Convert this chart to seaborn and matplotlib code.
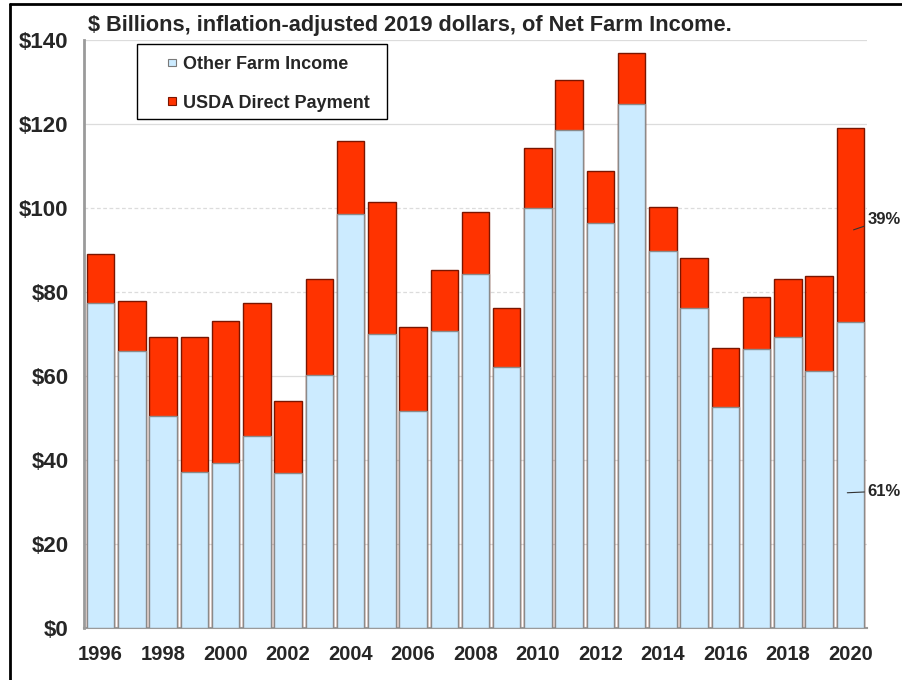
import matplotlib
matplotlib.use("Agg")
import matplotlib.pyplot as plt
from matplotlib.patches import Patch, Rectangle
from matplotlib.legend_handler import HandlerPatch
from matplotlib.lines import Line2D
import seaborn as sns
import pandas as pd

# ---------------- data ----------------
years = [1996, 1997, 1998, 1999, 2000, 2001, 2002, 2003, 2004, 2005, 2006, 2007,
         2008, 2009, 2010, 2011, 2012, 2013, 2014, 2015, 2016, 2017, 2018, 2019, 2020]
other_income = [77.3, 66.0, 50.5, 37.1, 39.4, 45.6, 36.8, 60.3, 98.6, 70.0, 51.7, 70.6,
                84.4, 62.1, 100.1, 118.5, 96.5, 124.7, 89.8, 76.3, 52.7, 66.4, 69.3, 61.2, 72.8]
direct_payment = [11.7, 11.8, 18.7, 32.1, 33.6, 31.9, 17.3, 22.8, 17.3, 31.5, 19.9, 14.7,
                  14.7, 14.2, 14.3, 12.0, 12.2, 12.1, 10.4, 11.7, 13.9, 12.3, 13.8, 22.7, 46.2]
series_labels = ["Other Farm Income", "USDA Direct Payment"]
title_text = "$ Billions, inflation-adjusted 2019 dollars, of Net Farm Income."
yticks = [0, 20, 40, 60, 80, 100, 120, 140]
share_labels = ["39%", "61%"]

df = pd.DataFrame({"year": [str(y) for y in years],
                   "other": other_income,
                   "direct": direct_payment})
df["total"] = df["other"] + df["direct"]

BLUE = "#CCEBFF"
RED = "#FF3300"

sns.set_style("white")
plt.rcParams["font.family"] = ["Liberation Sans", "DejaVu Sans"]
plt.rcParams["font.weight"] = "bold"

fig = plt.figure(figsize=(9.02, 6.8), dpi=100)
ax = fig.add_axes([84 / 902, 1 - 628 / 680, 783 / 902, 588 / 680])

# stacked bars: total (red) first, then the other-income part (blue) over it
sns.barplot(data=df, x="year", y="total", color=RED, saturation=1, width=0.88,
            edgecolor="#7a1500", linewidth=1.0, ax=ax, zorder=2)
sns.barplot(data=df, x="year", y="other", color=BLUE, saturation=1, width=0.88,
            edgecolor="#8a8a8a", linewidth=1.0, ax=ax, zorder=3)

ax.set_xlim(-0.53, len(years) - 0.47)
ax.set_ylim(0, 140)
ax.set_yticks(yticks)
ax.set_yticklabels([f"${v}" for v in yticks])
ax.set_xticks(range(0, len(years), 2))
ax.set_xticklabels([str(y) for y in years[::2]])
ax.set_xlabel("")
ax.set_ylabel("")
ax.tick_params(axis="both", length=0)
ax.tick_params(axis="x", labelsize=14.5, pad=12)
ax.tick_params(axis="y", labelsize=16, pad=11)
for lab in ax.get_xticklabels() + ax.get_yticklabels():
    lab.set_fontweight("bold")

for v in yticks[1:]:
    ax.axhline(v, color="#dcdcdc", lw=0.9, ls=(0, (3, 2)) if v in (80, 100) else "-", zorder=1)

for s in ["top", "right"]:
    ax.spines[s].set_visible(False)
ax.spines["left"].set_color("#9a9a9a")
ax.spines["left"].set_linewidth(2.0)
ax.spines["bottom"].set_color("#9a9a9a")
ax.spines["bottom"].set_linewidth(1.5)


# legend with small squares sitting at the right end of the handle area
class SmallSquare(HandlerPatch):
    def create_artists(self, legend, orig_handle, xdescent, ydescent, width, height,
                       fontsize, trans):
        sq = 0.42 * fontsize
        p = Rectangle((-xdescent + width - sq, -ydescent + (height - sq) / 2), sq, sq,
                      facecolor=orig_handle.get_facecolor(),
                      edgecolor=orig_handle.get_edgecolor(), lw=0.8, transform=trans)
        return [p]


handles = [Patch(facecolor=BLUE, edgecolor="#7a7a7a", label=series_labels[0]),
           Patch(facecolor=RED, edgecolor="#7a1500", label=series_labels[1])]
leg = ax.legend(handles=handles, loc="upper left", bbox_to_anchor=(0.0894, 0.973),
                frameon=False, fontsize=13, handlelength=1.2, handleheight=0.7,
                handletextpad=0.4, labelspacing=1.2, borderpad=0, borderaxespad=0,
                handler_map={Patch: SmallSquare()})
for t in leg.get_texts():
    t.set_fontweight("bold")
# legend frame
ax.add_patch(Rectangle((0.0677, 0.8656), 0.3193, 0.1276, transform=ax.transAxes,
                       facecolor="white", edgecolor="black", lw=1.0, zorder=4,
                       clip_on=False))
leg.set_zorder(5)

# title
fig.text(88 / 902, 1 - 25 / 680, title_text, fontsize=15.7, fontweight="bold",
         ha="left", va="center")

# share annotations on the 2020 bar
last = len(years) - 1
ax.annotate(share_labels[0], xy=(last + 0.1, 94.8), xytext=(last + 0.55, 97.3),
            fontsize=12, fontweight="bold", va="center", ha="left",
            arrowprops=dict(arrowstyle="-", color="#333333", lw=0.8,
                            shrinkA=0, shrinkB=0),
            annotation_clip=False)
ax.annotate(share_labels[1], xy=(last - 0.1, 32.2), xytext=(last + 0.55, 32.6),
            fontsize=12, fontweight="bold", va="center", ha="left",
            arrowprops=dict(arrowstyle="-", color="#333333", lw=0.8,
                            shrinkA=0, shrinkB=0),
            annotation_clip=False)

# outer frame (left and top edges visible)
fig.add_artist(Line2D([10 / 902, 10 / 902], [0, 1 - 4 / 680], transform=fig.transFigure,
                      color="black", lw=2))
fig.add_artist(Line2D([10 / 902, 1], [1 - 4 / 680, 1 - 4 / 680], transform=fig.transFigure,
                      color="black", lw=2))

fig.savefig("out.png", dpi=100)
